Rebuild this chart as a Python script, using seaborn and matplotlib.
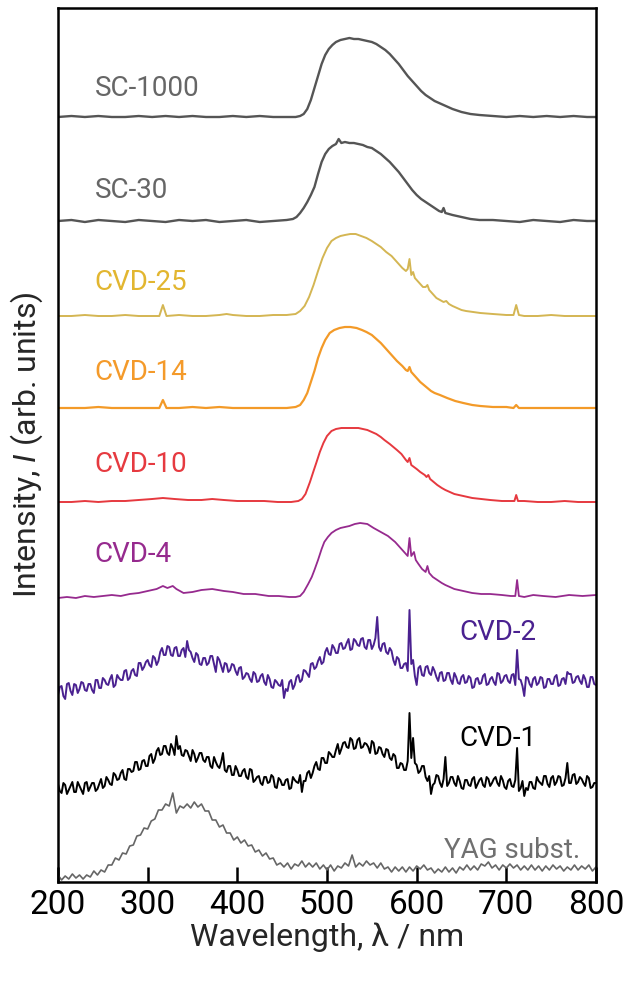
import numpy as np
import matplotlib
matplotlib.use("Agg")
import matplotlib.pyplot as plt
import seaborn as sns

# --- spectra (intensity above each trace's own baseline) ---

wl_sc1000 = [200, 215, 230, 245, 260, 275, 290, 305, 320, 335, 350, 365, 380, 395, 410, 425, 440, 455,
             465, 470, 474, 478, 482, 486, 490, 494, 498, 502, 506, 510, 515, 520, 525, 530, 535, 540, 545, 550,
             555, 560, 565, 570, 575, 580, 585, 590, 595, 600, 605, 610, 615, 620, 625, 630, 640, 650, 660, 670,
             685, 700, 715, 730, 745, 760, 775, 790, 800]
int_sc1000 = [0, 1, 0, 1, 0, 0, 1, 0, 1, 0, 1, 0, 0, 1, 0, 1, 0, 0,
              0, 1, 3, 8, 17, 29, 41, 53, 62, 68, 72, 75, 77, 78, 79, 78, 78, 77, 76, 75,
              73, 70, 67, 63, 58, 53, 47, 41, 36, 31, 26, 22, 19, 16, 14, 12, 8, 5, 3, 2,
              1, 0, 1, 0, 1, 0, 1, 0, 0]

wl_sc30 = [200, 215, 230, 245, 260, 275, 290, 305, 320, 335, 350, 365, 380, 395, 410, 425, 440, 455,
           462, 466, 470, 474, 478, 482, 486, 490, 494, 498, 502, 506, 510, 513, 516, 520, 525, 530, 535, 540,
           545, 550, 555, 560, 565, 570, 575, 580, 585, 590, 595, 600, 605, 610, 615, 620, 625, 628, 630, 632,
           640, 650, 660, 670, 685, 700, 715, 730, 745, 760, 775, 790, 800]
int_sc30 = [0, 1, -1, 1, 0, -1, 1, 0, -1, 1, 0, 1, -1, 0, 1, -1, 0, 1,
            2, 4, 8, 13, 19, 26, 34, 47, 59, 67, 72, 75, 77, 82, 78, 79, 78, 78, 77, 76,
            74, 73, 70, 67, 63, 59, 54, 49, 43, 37, 31, 26, 22, 19, 16, 13, 10, 9, 13, 8,
            6, 4, 2, 1, 1, 0, -1, 1, 0, -1, 1, 0, 0]

wl_cvd25 = [200, 215, 230, 245, 260, 275, 290, 305, 313, 317, 321, 335, 350, 365, 380, 388, 395, 410, 425, 440, 455,
            465, 470, 475, 480, 485, 490, 495, 500, 505, 510, 515, 520, 526, 532, 538, 544, 550, 555, 560, 566,
            572, 578, 584, 588, 590, 592, 594, 596, 598, 600, 604, 607, 610, 612, 614, 618, 622, 626, 630, 633,
            636, 640, 645, 650, 655, 663, 671, 685, 700, 708, 711, 714, 720, 735, 750, 765, 780, 800]
int_cvd25 = [0, 0, 1, 0, 0, 1, 0, 0, 0, 11, 0, 1, 0, 0, 1, 2, 1, 0, 0, 1, 1,
             2, 5, 10, 19, 31, 45, 58, 68, 75, 78, 80, 81, 82, 82, 80, 78, 75, 72, 69, 64,
             60, 54, 48, 45, 47, 57, 41, 44, 38, 36, 32, 29, 29, 31, 26, 22, 18, 16, 14, 15,
             12, 10, 8, 6, 5, 4, 3, 2, 1, 1, 11, 1, 0, 0, 1, 0, 0, 0]

wl_cvd14 = [200, 215, 230, 245, 260, 275, 290, 305, 313, 317, 321, 335, 350, 365, 380, 395, 410, 425, 440, 455,
            465, 470, 474, 478, 482, 486, 490, 494, 498, 503, 508, 514, 520, 526, 533, 539, 544, 550, 555, 560,
            566, 572, 578, 584, 588, 590, 592, 594, 597, 600, 604, 608, 612, 616, 620, 626, 634, 643, 652, 662,
            671, 685, 700, 708, 711, 714, 725, 740, 755, 770, 785, 800]
int_cvd14 = [0, 0, 0, 1, 0, 0, 0, 0, 0, 8, 0, 0, 1, 0, 1, 0, 0, 0, 0, 0,
             1, 3, 8, 15, 26, 37, 50, 60, 68, 75, 78, 80, 81, 81, 80, 78, 76, 73, 69, 65,
             59, 53, 47, 42, 38, 37, 41, 36, 33, 30, 26, 23, 20, 17, 15, 13, 10, 7, 5, 3,
             2, 1, 1, 0, 3, 0, 0, 0, 0, 0, 0, 0]

wl_cvd10 = [200, 215, 230, 245, 260, 275, 290, 305, 317, 330, 345, 360, 372, 385, 400, 415, 430, 445, 460, 468,
            472, 476, 481, 485, 488, 492, 496, 500, 505, 510, 516, 525, 535, 545, 550, 555, 560, 564, 570, 574,
            578, 583, 588, 590, 592, 594, 597, 600, 604, 609, 611, 613, 615, 619, 623, 628, 632, 637, 642, 652,
            662, 672, 682, 695, 705, 709, 711, 713, 720, 735, 750, 765, 780, 800]
int_cvd10 = [0, 0, 1, 0, 1, 1, 2, 3, 4, 3, 2, 2, 3, 2, 1, 1, 1, 0, 0, 1,
             3, 8, 20, 31, 39, 50, 59, 66, 71, 73, 74, 74, 74, 72, 70, 68, 65, 62, 58, 55,
             52, 48, 42, 40, 44, 37, 35, 33, 30, 27, 25, 27, 23, 20, 17, 14, 12, 10, 8, 6,
             4, 3, 2, 1, 1, 1, 7, 1, 1, 0, 0, 1, 0, 0]

wl_cvd4 = [200, 210, 220, 230, 240, 250, 260, 270, 280, 290, 300, 310, 317, 322, 328, 332, 340, 350, 360, 372,
           385, 395, 407, 420, 435, 446, 458, 465, 470, 474, 479, 483, 486, 490, 494, 497, 501, 505, 510, 515,
           520, 525, 531, 537, 545, 552, 560, 568, 576, 583, 588, 590, 592, 594, 597, 599, 602, 606, 610, 612,
           614, 618, 623, 628, 632, 637, 642, 652, 662, 672, 682, 695, 705, 710, 712, 714, 720, 730, 741, 755,
           770, 785, 800]
int_cvd4 = [0, 1, 0, 2, 1, 2, 3, 2, 4, 5, 7, 9, 12, 10, 12, 9, 5, 6, 8, 9,
            7, 6, 4, 4, 2, 2, 1, 1, 2, 6, 14, 21, 28, 38, 49, 56, 61, 65, 68, 70,
            71, 72, 74, 75, 74, 70, 66, 62, 56, 49, 44, 42, 60, 42, 46, 38, 34, 29, 26, 32,
            25, 21, 18, 15, 13, 11, 9, 7, 5, 4, 4, 3, 2, 2, 18, 2, 1, 3, 2, 1,
            3, 2, 3]

# noisy traces, read every 4 nm (200, 204, ... 800) and at the points in between (202, 206, ... 798)
wl_grid_a = list(range(200, 801, 4))
wl_grid_b = list(range(202, 800, 4))

int_cvd2 = [-5, 4, -9, 7, -5, 5, 1, 7, -1, 6, -3, 10, 2, 10, 5, 15, 5, 12, 10, 20,
            12, 21, 14, 27, 23, 30, 23, 32, 29, 42, 35, 43, 34, 43, 34, 42, 49, 38, 28, 35,
            25, 32, 27, 34, 18, 30, 18, 26, 20, 25, 15, 23, 13, 16, 8, 16, 9, 16, 5, 11,
            2, 8, 4, -8, -1, 10, 5, 15, 10, 19, 13, 27, 23, 33, 28, 42, 35, 42, 37, 47,
            42, 51, 41, 49, 44, 52, 41, 50, 45, 73, 39, 47, 36, 39, 25, 31, 22, 27, 80, 30,
            5, 24, 14, 24, 15, 19, 9, 18, 10, 17, 6, 13, 6, 15, 8, 12, 3, 12, 7, 16,
            6, 13, 5, 16, 9, 15, 7, 16, 40, 10, -6, 12, 3, 13, 7, 12, 3, 11, 6, 15,
            5, 12, 18, 16, 8, 14, 6, 11, 3, 13, 5]
int_cvd2_b = [3, -6, 6, -1, 6, -3, 8, 0, 6, 0, 10, 2, 12, 6, 11, 3, 15, 10, 19, 10,
              19, 15, 27, 20, 28, 25, 34, 25, 38, 35, 44, 35, 42, 34, 40, 33, 40, 32, 37, 26,
              32, 25, 34, 26, 33, 24, 27, 18, 26, 19, 22, 11, 17, 11, 18, 8, 14, 8, 15, 3,
              10, 5, 10, 1, 8, 1, 13, 8, 20, 16, 26, 21, 29, 26, 38, 36, 45, 37, 46, 41,
              47, 40, 51, 45, 51, 43, 50, 41, 52, 43, 46, 38, 42, 30, 33, 22, 26, 19, 26, 14,
              22, 15, 23, 17, 23, 13, 17, 9, 17, 10, 17, 7, 13, 7, 14, 2, 11, 6, 14, 5,
              11, 8, 17, 7, 14, 9, 15, 5, 11, 4, 13, 6, 11, 5, 13, 2, 11, 6, 13, 4,
              11, 6, 16, 7, 13, 9, 15, 3, 13, 6]

int_cvd1 = [4, -5, 3, -2, 6, -4, 2, -6, 6, 1, 5, -1, 9, 2, 8, 3, 13, 9, 18, 8,
            19, 17, 26, 19, 28, 22, 34, 29, 40, 34, 42, 33, 40, 52, 42, 32, 37, 27, 34, 30,
            35, 26, 31, 20, 26, 20, 35, 16, 22, 13, 18, 12, 19, 9, 18, 8, 12, 3, 11, 6,
            11, 0, 8, 3, 9, 0, 8, 5, -4, 7, 17, 15, 26, 18, 30, 25, 34, 31, 44, 39,
            46, 40, 48, 40, 50, 41, 44, 35, 45, 35, 40, 31, 38, 28, 32, 20, 24, 18, 75, 50,
            23, 17, 22, 7, -6, 5, 12, 1, 31, 5, 11, 2, 7, -1, 8, 2, 11, 4, 10, 1,
            9, 5, 11, 2, 8, -1, 9, 1, 40, 0, -8, -2, 6, -1, 7, 3, 12, 1, 12, 6,
            11, 3, 25, 5, 14, 6, 9, 2, 10, 1, 5]
int_cvd1_b = [-3, 5, -6, 2, -4, 6, -2, 5, -3, 5, -3, 4, 0, 11, 4, 15, 8, 15, 9, 19,
              16, 26, 18, 27, 22, 32, 25, 37, 33, 42, 35, 44, 33, 39, 33, 38, 32, 38, 26, 35,
              28, 31, 22, 31, 22, 26, 18, 22, 13, 22, 12, 17, 11, 19, 6, 11, 5, 11, 5, 13,
              1, 10, 3, 8, -1, 11, 6, 13, 7, 15, 10, 22, 19, 30, 25, 36, 31, 38, 34, 45,
              41, 50, 39, 48, 40, 45, 41, 47, 34, 41, 34, 39, 30, 34, 20, 25, 18, 27, 30, 25,
              15, 22, 11, 12, 3, 13, 5, 9, 2, 11, 5, 12, 0, 8, 3, 9, 0, 8, 3, 11,
              2, 9, 5, 12, 1, 7, 2, 8, -3, 7, 0, 6, 0, 11, 5, 12, 4, 10, 3, 12,
              2, 10, 5, 13, 4, 11, 5, 12, 0, 5]

int_yag = [2, -3, 1, -2, 3, -1, 2, -2, 2, 0, 6, 2, 7, 5, 12, 12, 19, 17, 24, 23,
           31, 32, 41, 42, 49, 48, 56, 58, 67, 67, 73, 71, 84, 64, 71, 69, 73, 69, 75, 70,
           73, 66, 66, 57, 57, 50, 52, 44, 44, 37, 40, 34, 37, 31, 32, 25, 27, 21, 24, 18,
           19, 12, 14, 10, 14, 8, 13, 11, 16, 10, 14, 10, 14, 8, 12, 7, 12, 6, 11, 9,
           14, 11, 22, 10, 14, 11, 16, 12, 14, 9, 14, 8, 10, 5, 10, 6, 10, 5, 10, 6,
           11, 8, 12, 7, 9, 4, 8, 5, 10, 5, 9, 4, 10, 7, 12, 7, 11, 7, 13, 11,
           15, 9, 12, 7, 12, 9, 13, 9, 12, 7, 11, 7, 12, 7, 11, 6, 11, 7, 12, 8,
           11, 6, 10, 7, 12, 7, 11, 8, 12, 6, 10]

labels = ["SC-1000", "SC-30", "CVD-25", "CVD-14", "CVD-10", "CVD-4", "CVD-2", "CVD-1", "YAG subst."]
offsets = [765, 661, 566, 474, 380, 284, 192, 94, 5]
line_colors = ["#555555", "#555555", "#d4b653", "#f39a28", "#e6393f", "#962a8e", "#4a2190", "#000000", "#666666"]
text_colors = ["#666666", "#666666", "#e2b630", "#f49a2a", "#e63a40", "#962a8e", "#4a2190", "#000000", "#707070"]
line_widths = [1.7, 1.7, 1.4, 1.6, 1.4, 1.3, 1.4, 1.4, 1.2]
label_x = [241, 241, 241, 241, 241, 241, 648, 648, 782]
label_y = [794, 692, 599, 510, 417, 327, 250, 144, 32]
label_ha = ["left"] * 8 + ["right"]

spectra = [
    (wl_sc1000, int_sc1000), (wl_sc30, int_sc30), (wl_cvd25, int_cvd25),
    (wl_cvd14, int_cvd14), (wl_cvd10, int_cvd10), (wl_cvd4, int_cvd4),
    (wl_grid_a + wl_grid_b, int_cvd2 + int_cvd2_b),
    (wl_grid_a + wl_grid_b, int_cvd1 + int_cvd1_b),
    (wl_grid_a, int_yag),
]

sns.set_theme(style="ticks")
plt.rcParams["font.family"] = ["Roboto", "DejaVu Sans"]
plt.rcParams["mathtext.fontset"] = "custom"
plt.rcParams["mathtext.it"] = "Roboto:italic"
plt.rcParams["mathtext.rm"] = "Roboto"

fig = plt.figure(figsize=(6.25, 9.82), dpi=100)
ax = fig.add_axes([58 / 625, 1 - 882 / 982, 538 / 625, 874 / 982])

for (wl, inten), off, c, lw in zip(spectra, offsets, line_colors, line_widths):
    y = np.array(inten) + off
    sns.lineplot(x=wl, y=y, ax=ax, color=c, linewidth=lw, estimator=None, sort=True)

for lab, x, y, c, ha in zip(labels, label_x, label_y, text_colors, label_ha):
    ax.text(x, y, lab, color=c, fontsize=20, ha=ha, va="center")

ax.set_xlim(200, 800)
ax.set_ylim(0, 874)
ax.set_xticks([200, 300, 400, 500, 600, 700, 800])
ax.set_yticks([])
ax.tick_params(axis="x", direction="in", length=11, width=1.8, labelsize=24, pad=5,
               top=False, bottom=True, colors="black")
for sp in ax.spines.values():
    sp.set_linewidth(1.8)
    sp.set_color("black")

ax.set_xlabel("Wavelength, λ / nm", fontsize=23, labelpad=1)
ax.set_ylabel("Intensity, $I$ (arb. units)", fontsize=23, labelpad=9)

plt.savefig("out.png", dpi=100)
